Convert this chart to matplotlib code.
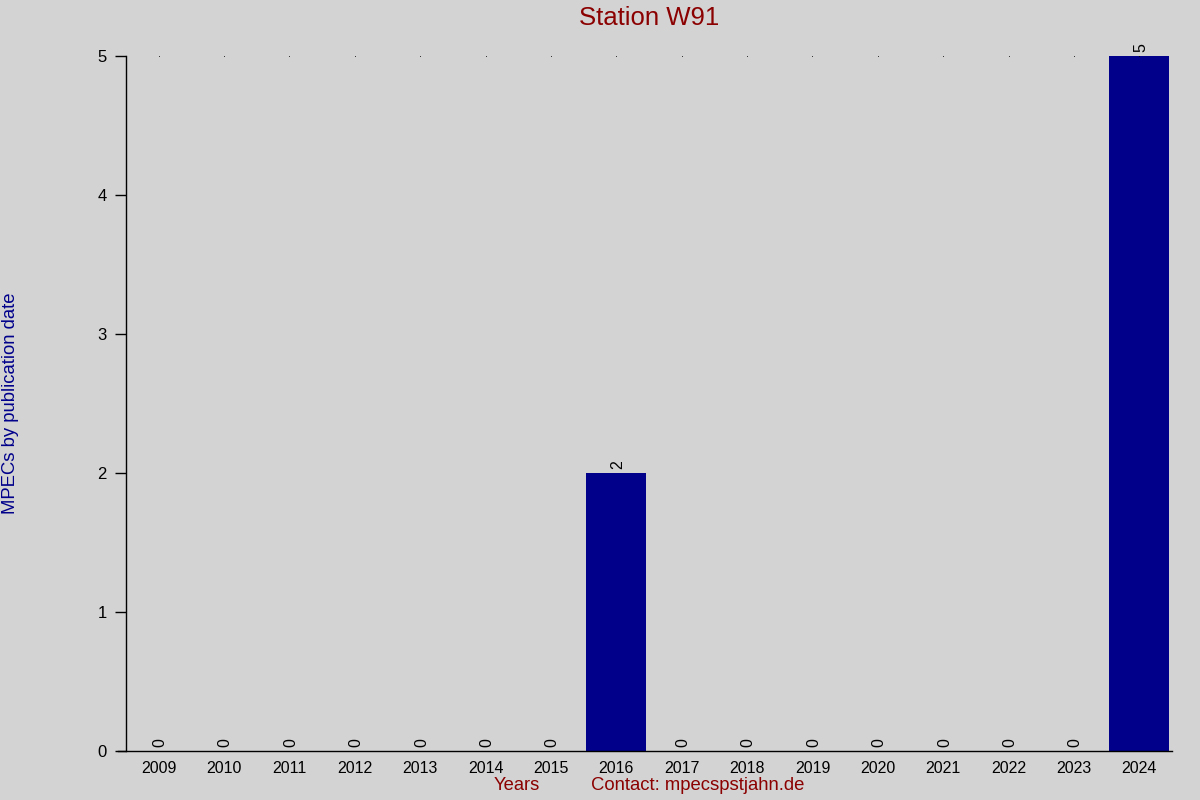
import matplotlib
matplotlib.use('Agg')
import matplotlib.pyplot as plt
import numpy as np

# === Data ===
years = ['2009', '2010', '2011', '2012', '2013', '2014', '2015', '2016',
         '2017', '2018', '2019', '2020', '2021', '2022', '2023', '2024']
mpecs = [0, 0, 0, 0, 0, 0, 0, 2, 0, 0, 0, 0, 0, 0, 0, 5]

bg = '#d3d3d3'
plt.rcParams['font.family'] = ['Liberation Sans', 'DejaVu Sans']

fig = plt.figure(figsize=(12, 8), dpi=100, facecolor=bg)
ax = fig.add_axes([126 / 1200, 1 - 751 / 800, (1172 - 126) / 1200, (751 - 56) / 800])
ax.set_facecolor(bg)

x = np.arange(len(years))
ax.bar(x, mpecs, width=0.92, color='#00008b', zorder=2)

# tiny dots along the top line
top = max(mpecs)
ax.plot(x, [top] * len(x), linestyle='none', marker='s', markersize=0.5,
        markeredgewidth=0, color='black', zorder=3)

# value labels above bars
for xi, v in zip(x, mpecs):
    ax.text(xi + 0.02, v + 0.03, str(v), rotation=90, ha='center', va='bottom',
            fontsize=11.5, color='black')

ax.set_xlim(-0.5, len(years) - 0.5)
ax.set_ylim(0, top)
ax.set_xticks(x)
ax.set_xticklabels(years, fontsize=11.5)
ax.tick_params(axis='x', length=0, pad=7)
ax.set_yticks(range(0, top + 1))
ax.tick_params(axis='y', length=8, width=1, labelsize=12, pad=6)

for s in ['top', 'right']:
    ax.spines[s].set_visible(False)
ax.spines['left'].set_linewidth(1)
ax.spines['bottom'].set_linewidth(1)
ax.spines['bottom'].set_bounds(-0.5 - 8 / 65.375, len(years) - 0.5)

ax.set_title('Station W91', color='#8b0000', fontsize=18.5, pad=22)
fig.text(11 / 1200, 1 - 403 / 800, 'MPECs by publication date', rotation=90,
         color='#00008b', fontsize=13.3, ha='center', va='center')
fig.text(517 / 1200, 1 - 786 / 800, 'Years', color='#8b0000', fontsize=13.2,
         ha='center', va='center')
fig.text(698 / 1200, 1 - 786 / 800, 'Contact: mpecspstjahn.de', color='#8b0000',
         fontsize=13.3, ha='center', va='center')

fig.savefig('out.png', dpi=100, facecolor=bg)
